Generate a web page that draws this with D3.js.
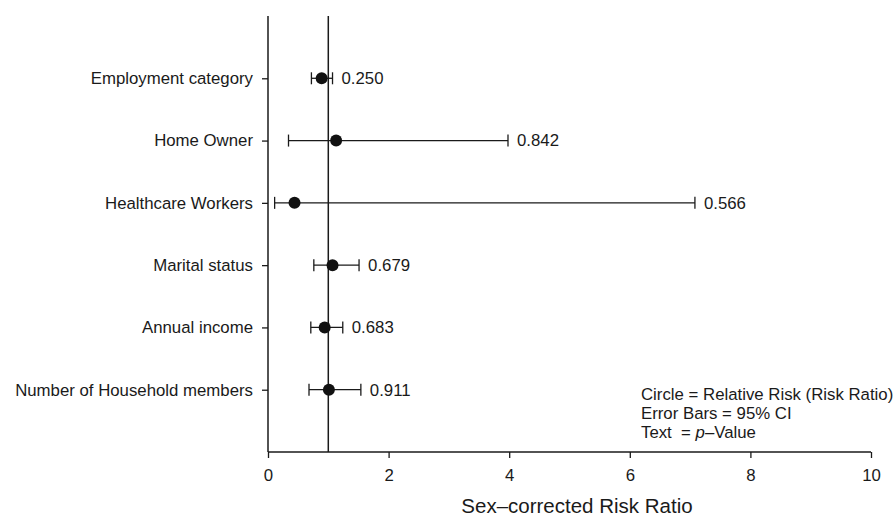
<!DOCTYPE html>
<html>
<head>
<meta charset="utf-8">
<script src="https://cdn.jsdelivr.net/npm/d3@7"></script>
<style>
  body { margin: 0; background: #fff; }
  svg text { font-family: "Liberation Sans", Arial, sans-serif; fill: #1a1a1a; }
</style>
</head>
<body>
<div id="chart"></div>
<script>
const categories = ['Employment category', 'Home Owner', 'Healthcare Workers',
    'Marital status', 'Annual income', 'Number of Household members'];
const riskRatio = [0.89, 1.13, 0.44, 1.07, 0.94, 1.01];
const ciLower = [0.72, 0.34, 0.11, 0.76, 0.71, 0.68];
const ciUpper = [1.07, 3.98, 7.08, 1.51, 1.24, 1.54];
const pValues = ['0.250', '0.842', '0.566', '0.679', '0.683', '0.911'];
const xTicks = [0, 2, 4, 6, 8, 10];

const width = 896, height = 516;
const margin = { top: 16, right: 25, bottom: 64, left: 268 };
const ink = '#1a1a1a';
const fontSize = 16.8;

const svg = d3.select('#chart')
    .append('svg')
    .attr('width', width)
    .attr('height', height);

const x = d3.scaleLinear()
    .domain([0, 10])
    .range([margin.left, width - margin.right]);

// rows sit at positions 1..6 on a 0..7 scale
const y = d3.scaleLinear()
    .domain([0, categories.length + 1])
    .range([margin.top, height - margin.bottom]);

const xAxis = svg.append('g')
    .attr('transform', `translate(0,${height - margin.bottom})`)
    .call(d3.axisBottom(x).tickValues(xTicks).tickSize(6).tickPadding(11).tickFormat(d3.format('d')));

const yAxis = svg.append('g')
    .attr('transform', `translate(${margin.left},0)`)
    .call(d3.axisLeft(y)
        .tickValues(d3.range(1, categories.length + 1))
        .tickSize(6).tickPadding(9)
        .tickFormat(i => categories[i - 1]));

[xAxis, yAxis].forEach(g => {
    g.select('.domain').attr('stroke', ink).attr('stroke-width', 1.5);
    g.selectAll('.tick line').attr('stroke', ink).attr('stroke-width', 1.3);
    g.selectAll('.tick text').attr('font-size', fontSize).attr('fill', ink);
});
// plain axis lines without end caps
yAxis.select('.domain').attr('d', `M0,${margin.top}V${height - margin.bottom}`);
xAxis.select('.domain').attr('d', `M${x(0)},0H${x(10)}`);

// reference line at RR = 1
svg.append('line')
    .attr('x1', x(1)).attr('x2', x(1))
    .attr('y1', margin.top).attr('y2', height - margin.bottom)
    .attr('stroke', ink)
    .attr('stroke-width', 1.5);

const rows = categories.map((c, i) => ({
    cat: c, rr: riskRatio[i], lo: ciLower[i], hi: ciUpper[i], p: pValues[i], pos: i + 1
}));

const row = svg.append('g')
    .selectAll('g')
    .data(rows)
    .enter()
    .append('g');

row.append('line')
    .attr('x1', d => x(d.lo)).attr('x2', d => x(d.hi))
    .attr('y1', d => y(d.pos)).attr('y2', d => y(d.pos))
    .attr('stroke', ink).attr('stroke-width', 1.3);

row.selectAll('.cap')
    .data(d => [d.lo, d.hi].map(v => ({ v, pos: d.pos })))
    .enter()
    .append('line')
    .attr('class', 'cap')
    .attr('x1', d => x(d.v)).attr('x2', d => x(d.v))
    .attr('y1', d => y(d.pos) - 6).attr('y2', d => y(d.pos) + 6)
    .attr('stroke', ink).attr('stroke-width', 1.3);

row.append('circle')
    .attr('cx', d => x(d.rr))
    .attr('cy', d => y(d.pos))
    .attr('r', 6)
    .attr('fill', '#111');

row.append('text')
    .attr('x', d => x(d.hi) + 9)
    .attr('y', d => y(d.pos))
    .attr('dy', '0.35em')
    .attr('font-size', fontSize)
    .text(d => d.p);

svg.append('text')
    .attr('x', 577)
    .attr('y', 513)
    .attr('text-anchor', 'middle')
    .attr('font-size', 20.5)
    .text('Sex\u2013corrected Risk Ratio');

// legend
const legend = svg.append('g')
    .attr('transform', 'translate(641,394)')
    .attr('font-size', fontSize);

legend.append('text').attr('y', 0).attr('dy', '0.35em')
    .text('Circle = Relative Risk (Risk Ratio)');
legend.append('text').attr('y', 19).attr('dy', '0.35em')
    .text('Error Bars = 95% CI');
const t3 = legend.append('text').attr('y', 38).attr('dy', '0.35em');
t3.append('tspan').text('Text\u00a0 = ');
t3.append('tspan').attr('font-style', 'italic').text('p');
t3.append('tspan').text('\u2013Value');
</script>
</body>
</html>
